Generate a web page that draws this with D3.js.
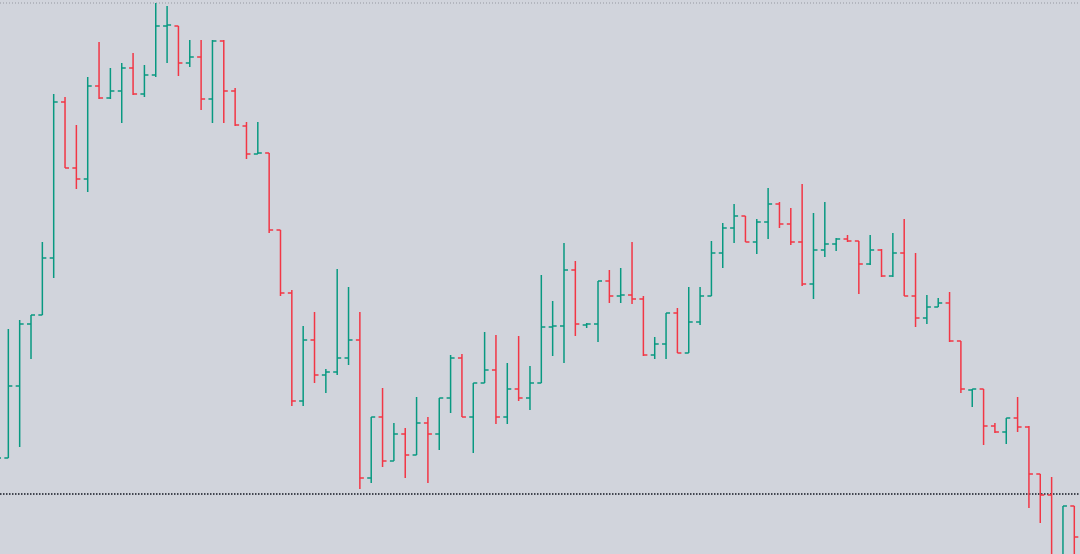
<!DOCTYPE html>
<html>
<head>
<meta charset="utf-8">
<script src="https://cdn.jsdelivr.net/npm/d3@7/dist/d3.min.js"></script>
<style>
  html, body { margin: 0; padding: 0; background: #d1d4dc; }
  svg { display: block; }
</style>
</head>
<body>
<svg id="chart" width="1080" height="554"></svg>
<script>
// Prices in points (1 point = 0.0001), bar index -1 .. 94
const barIndex = d3.range(-1, 95);
const open = [11535,
  11542,11614,11676,11685,11742,11898,11832,11821,11914,11902,
  11909,11932,11906,11925,11974,11974,11937,11943,11901,11959,
  11909,11874,11846,11847,11770,11707,11599,11660,11625,11628,
  11642,11660,11522,11583,11539,11566,11545,11577,11566,11602,
  11642,11583,11617,11630,11583,11611,11602,11617,11673,11674,
  11730,11675,11676,11719,11704,11705,11701,11645,11656,11687,
  11647,11678,11704,11747,11772,11784,11758,11778,11796,11776,
  11758,11716,11750,11756,11761,11759,11736,11750,11724,11747,
  11704,11682,11693,11697,11659,11610,11611,11574,11568,11582,
  11573,11526,11505,11440,11494];
const high = [11560,
  11671,11680,11685,11758,11906,11903,11875,11923,11958,11932,
  11937,11947,11935,11997,11994,11974,11960,11960,11960,11960,
  11912,11878,11878,11847,11770,11710,11674,11688,11631,11731,
  11713,11688,11583,11612,11577,11572,11603,11583,11602,11645,
  11646,11617,11668,11665,11637,11664,11634,11725,11699,11757,
  11739,11677,11719,11730,11732,11758,11704,11663,11687,11692,
  11713,11713,11759,11777,11796,11784,11781,11812,11798,11792,
  11816,11787,11798,11762,11765,11759,11765,11751,11767,11781,
  11747,11705,11702,11708,11659,11611,11611,11577,11582,11603,
  11574,11526,11523,11494,11494];
const low = [11530,
  11542,11553,11641,11685,11722,11832,11811,11808,11901,11901,
  11877,11905,11903,11923,11937,11924,11933,11890,11877,11877,
  11874,11841,11846,11767,11704,11594,11594,11617,11607,11625,
  11635,11511,11517,11533,11539,11522,11545,11517,11550,11587,
  11583,11547,11617,11576,11576,11599,11590,11617,11644,11637,
  11664,11672,11658,11697,11697,11696,11644,11641,11641,11647,
  11647,11675,11704,11732,11757,11758,11746,11761,11772,11755,
  11714,11701,11743,11749,11758,11706,11735,11723,11723,11704,
  11673,11676,11693,11658,11607,11593,11555,11567,11556,11568,
  11492,11477,11430,11430,11435];
const close = [11542,
  11614,11676,11685,11742,11898,11832,11821,11914,11902,11909,
  11932,11906,11925,11974,11975,11937,11943,11901,11959,11909,
  11875,11846,11847,11770,11707,11599,11660,11625,11628,11642,
  11660,11522,11583,11539,11566,11545,11577,11566,11602,11642,
  11583,11617,11630,11583,11611,11602,11617,11673,11674,11730,
  11676,11676,11719,11704,11705,11701,11645,11656,11687,11647,
  11678,11704,11747,11772,11784,11758,11778,11796,11776,11758,
  11716,11750,11756,11761,11759,11736,11750,11724,11747,11704,
  11682,11693,11697,11659,11611,11611,11574,11568,11582,11573,
  11526,11505,11440,11494,11463];
// Horizontal dotted levels
const highLevel = 11997;
const priceLevel = 11506;

const W = 1080, H = 554;
const upColor = "#089981", downColor = "#f23645";

const bars = barIndex.map((k, i) => ({
  k, o: open[i], h: high[i], l: low[i], c: close[i]
}));

const x = d3.scaleLinear().domain([0, 94]).range([8.33, 1074.3]);
const y = d3.scaleLinear().domain([11446, 12000]).range([H, 0]);
const tick = 4;

const svg = d3.select("#chart");
svg.append("rect").attr("width", W).attr("height", H).attr("fill", "#d1d4dc");

// dotted lines
svg.append("line")
  .attr("x1", 0).attr("x2", W)
  .attr("y1", y(highLevel)).attr("y2", y(highLevel))
  .attr("stroke", "#9598a1").attr("stroke-width", 1)
  .attr("stroke-dasharray", "1,2");
svg.append("line")
  .attr("x1", 0).attr("x2", W)
  .attr("y1", y(priceLevel)).attr("y2", y(priceLevel))
  .attr("stroke", "#131722").attr("stroke-width", 1.5)
  .attr("stroke-dasharray", "1.5,1.5");

const g = svg.append("g").selectAll("g.bar").data(bars).join("g")
  .attr("class", "bar")
  .attr("stroke", d => d.c >= d.o ? upColor : downColor)
  .attr("stroke-width", 1.5)
  .attr("fill", "none");

g.append("line")
  .attr("x1", d => x(d.k)).attr("x2", d => x(d.k))
  .attr("y1", d => y(d.h)).attr("y2", d => y(d.l));
g.append("line")
  .attr("x1", d => x(d.k) - tick).attr("x2", d => x(d.k))
  .attr("y1", d => y(d.o)).attr("y2", d => y(d.o));
g.append("line")
  .attr("x1", d => x(d.k)).attr("x2", d => x(d.k) + tick)
  .attr("y1", d => y(d.c)).attr("y2", d => y(d.c));
</script>
</body>
</html>
